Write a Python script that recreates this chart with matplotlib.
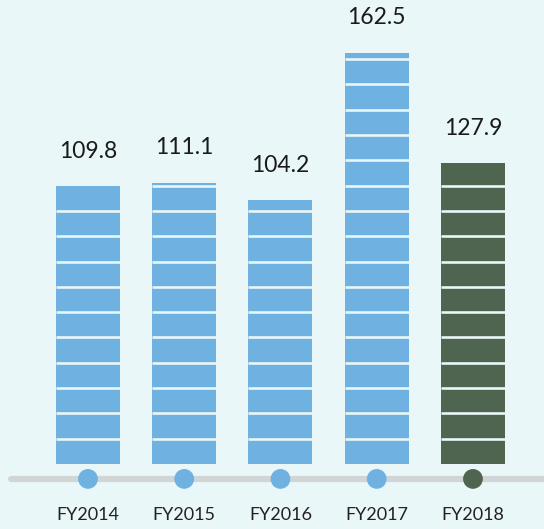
import numpy as np
import matplotlib.pyplot as plt

# DATA
years = ["FY2014", "FY2015", "FY2016", "FY2017", "FY2018"]
labels = ["109.8", "111.1", "104.2", "162.5", "127.9"]
# bar heights as drawn in the picture (last bar is drawn shorter than its label)
heights = [109.8, 111.1, 104.2, 162.5, 119.0]
colors = ["#6fb2e2", "#6fb2e2", "#6fb2e2", "#6fb2e2", "#506550"]

BG = "#eaf7f8"
x = np.arange(len(years))
w = 0.665

fig = plt.figure(figsize=(5.44, 5.29), dpi=100, facecolor=BG)
ax = fig.add_axes([0, 0, 1, 1])
ax.set_facecolor(BG)
ax.set_xlim(-0.914, 4.738)
ax.set_ylim(-25.7, 183.4)
ax.axis("off")

ax.bar(x, heights, width=w, color=colors, zorder=2)

# white stripes every 10 units
for xi, h, lab in zip(x, heights, labels):
    levels = np.arange(10, h, 10)
    ax.hlines(levels, xi - w/2, xi + w/2, colors=BG, linewidth=1.9, zorder=3)
    ax.text(xi, h + 13.8, lab, ha="center", va="center",
            fontsize=16.5, family=["Lato", "DejaVu Sans"], color="#1a1a1a")

# baseline with dots
ax.plot([-0.8, 5.0], [-5.9, -5.9], color="#d2d5d5", linewidth=4.5,
        solid_capstyle="round", zorder=1)
ax.scatter(x, [-5.9]*len(x), s=175, color=colors, zorder=4)

for xi, yr in zip(x, years):
    ax.text(xi, -20.2, yr, ha="center", va="center", fontsize=13,
            family=["Lato", "DejaVu Sans"], color="#222222")

fig.savefig("out.png", dpi=100, facecolor=BG)
